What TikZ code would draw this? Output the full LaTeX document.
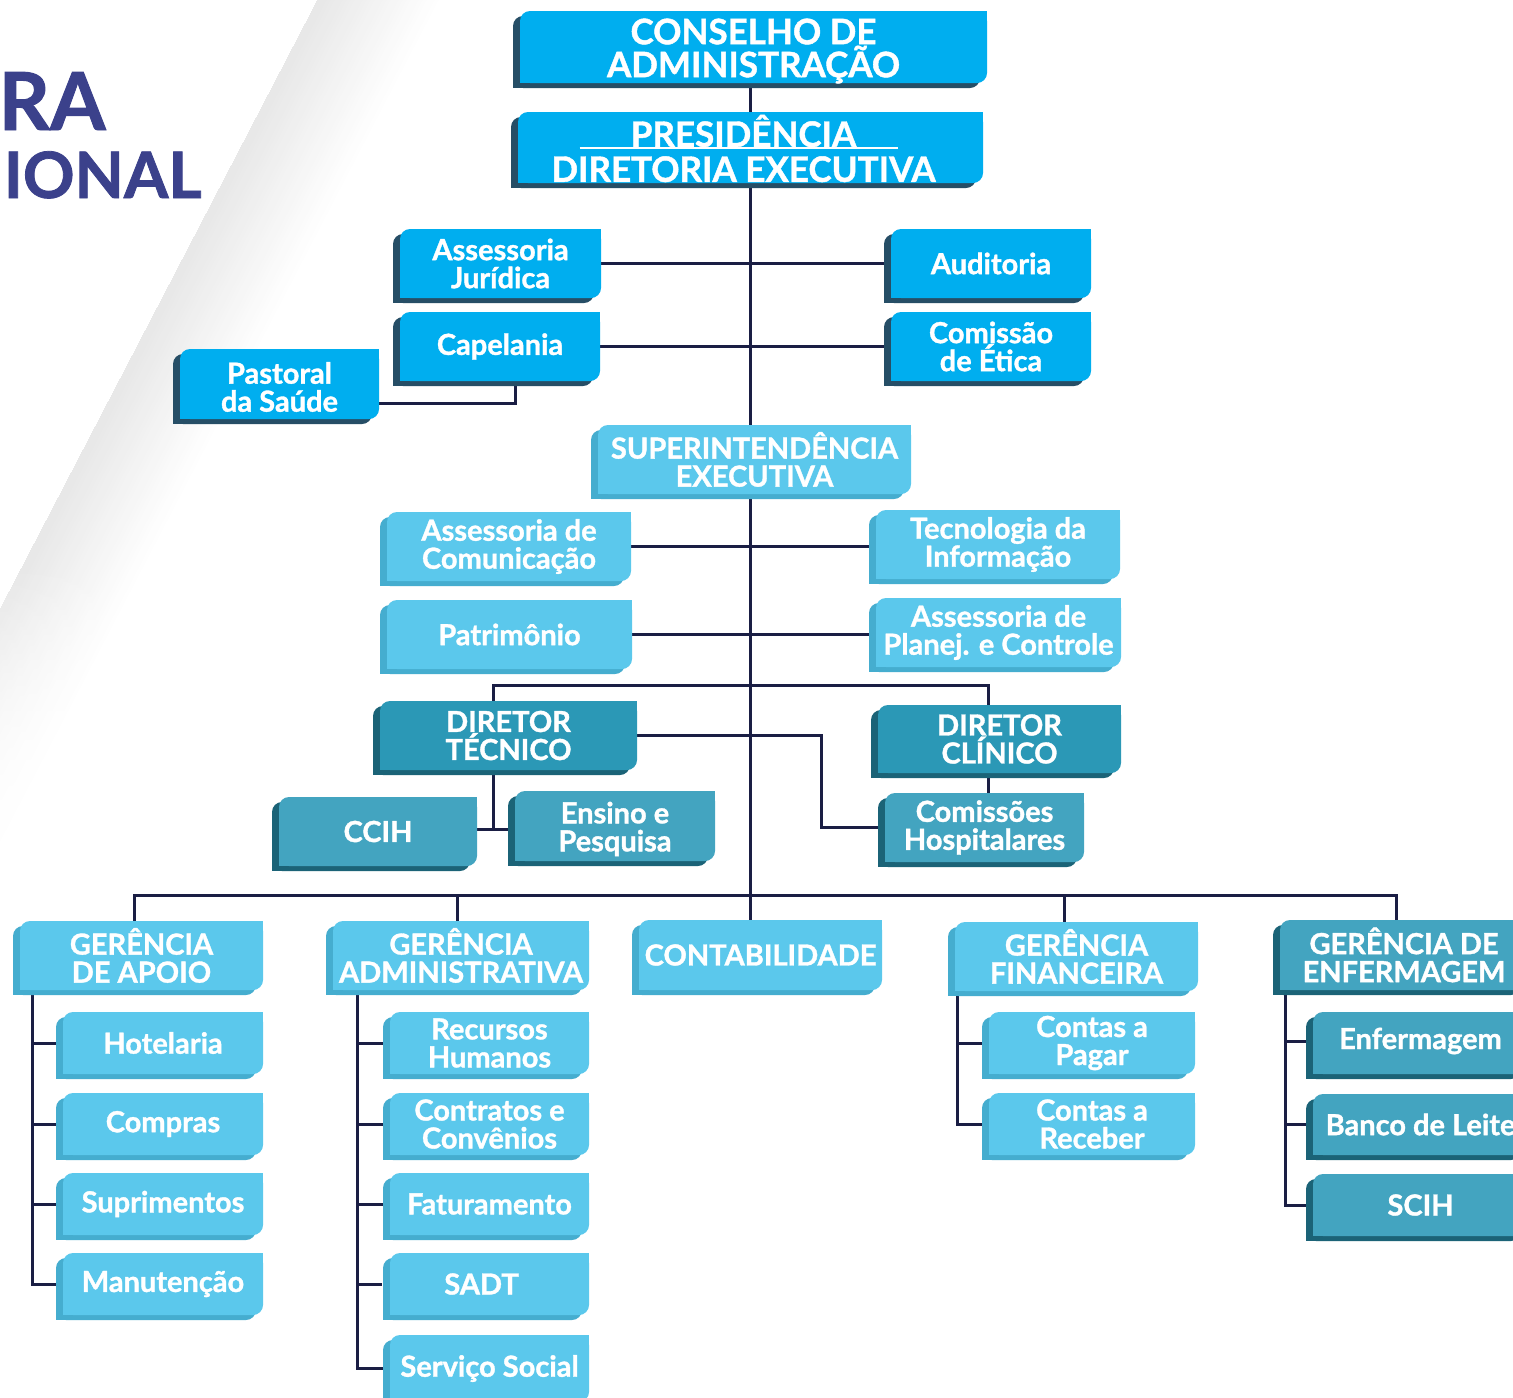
\documentclass[tikz,border=0pt]{standalone}
\usepackage{fontspec}
\setmainfont{Lato}[BoldFeatures={FakeBold=1.2}]
\usetikzlibrary{calc,fadings}
\definecolor{cyanC}{HTML}{00AEEF}
\definecolor{cyanS}{HTML}{264E66}
\definecolor{lightC}{HTML}{5BC8EC}
\definecolor{lightS}{HTML}{45ADCF}
\definecolor{dirC}{HTML}{2B98B6}
\definecolor{dirS}{HTML}{1B6377}
\definecolor{tealC}{HTML}{43A4C0}
\definecolor{tealS}{HTML}{1B6377}
\definecolor{lineC}{HTML}{1A1E44}
\definecolor{titleC}{HTML}{3B418B}
\pgfdeclarelayer{background}
\pgfsetlayers{background,main}
\tikzset{
  conn/.style={draw=lineC, line width=1.5pt},
  lbl/.style={text=white, font=\bfseries\fontsize{14.5}{14}\selectfont, align=center, inner sep=0pt},
  caplbl/.style={lbl, font=\bfseries\fontsize{14.5}{14}\selectfont},
  biglbl/.style={lbl, font=\bfseries\fontsize{17.5}{16.5}\selectfont},
}
\newcommand\obox[9][lbl]{%
  \fill[#8,rounded corners=5pt] (#3-7,#4+5) rectangle (#5-7,#6+5);
  \fill[#8] (#3-7,#6+5) rectangle (#3+5,#6-7);
  \fill[#7,rounded corners=5pt] (#3,#4) rectangle (#5,#6);
  \fill[#7] (#5-12,#4) rectangle (#5,#4+12);
  \fill[#7] (#3,#6-12) rectangle (#3+12,#6);
  \node[#1, minimum width={(#5-#3)*0.5pt}, minimum height={(#6-#4)*0.5pt}] (#2) at ({(#3+#5)/2},{(#4+#6)/2}) {#9};
}
\begin{document}
\begin{tikzpicture}[x=0.5pt,y=-0.5pt]
\useasboundingbox (0,0) rectangle (1513,1397);
\begin{pgfonlayer}{background}
\fill[white] (0,0) rectangle (1513,1397);
% background diagonal shading
\begin{scope}
\clip (0,0) rectangle (1513,1397);
\foreach \w in {120,116,...,4}{
  \pgfmathsetmacro\v{9.5*(1-\w/124)}
  \fill[black!\v] (318,0) -- (318+\w,0) -- (318+\w-728,1397) -- (318-728,1397) -- cycle;
}
\fill[white, path fading=north] (0,560) rectangle (400,860);
\fill[white] (0,860) rectangle (400,1397);
\end{scope}
\end{pgfonlayer}
% title fragments
\node[anchor=base east, inner sep=0, text=titleC, font=\bfseries\fontsize{40}{40}\selectfont] (ttl1) at (106,130) {RA};
\node[anchor=base east, inner sep=0, text=titleC, font=\bfseries\fontsize{32}{32}\selectfont] (ttl2) at (202,198) {IONAL};

\coordinate (sp) at (750,0);

% boxes
\obox[{biglbl,yshift=-2pt}]{conselho}{520}{11}{987}{83}{cyanC}{cyanS}{CONSELHO DE\\ADMINISTRAÇÃO}
\obox[{biglbl,xshift=-3.5pt,yshift=-0.5pt}]{pres}{518}{112}{983}{183}{cyanC}{cyanS}{PRESIDÊNCIA\\[1pt]DIRETORIA EXECUTIVA}
\draw[white, line width=1pt] ($(pres.north west)+(69,35)$) -- ($(pres.north west)+(387,35)$);
\obox{ajur}{400}{229}{601}{298}{cyanC}{cyanS}{Assessoria\\Jurídica}
\obox{aud}{891}{229}{1091}{298}{cyanC}{cyanS}{Auditoria}
\obox{cap}{400}{312}{600}{381}{cyanC}{cyanS}{Capelania}
\obox{etica}{891}{312}{1091}{381}{cyanC}{cyanS}{Comissão\\de Ética}
\obox[{lbl,yshift=-1.5pt}]{past}{180}{349}{379}{419}{cyanC}{cyanS}{Pastoral\\da Saúde}
\obox[caplbl]{sup}{598}{425}{911}{494}{lightC}{lightS}{SUPERINTENDÊNCIA\\EXECUTIVA}
\obox{acom}{387}{512}{631}{581}{lightC}{lightS}{Assessoria de\\Comunicação}
\obox{ti}{876}{510}{1120}{579}{lightC}{lightS}{Tecnologia da\\Informação}
\obox{pat}{387}{600}{632}{669}{lightC}{lightS}{Patrimônio}
\obox{apc}{876}{598}{1121}{667}{lightC}{lightS}{Assessoria de\\Planej. e Controle}
\obox[caplbl]{dt}{380}{701}{637}{770}{dirC}{dirS}{DIRETOR\\TÉCNICO}
\obox[caplbl]{dc}{878}{705}{1121}{773}{dirC}{dirS}{DIRETOR\\CLÍNICO}
\obox{ch}{885}{793}{1084}{862}{tealC}{tealS}{Comissões\\Hospitalares}
\obox{ccih}{279}{797}{477}{866}{tealC}{tealS}{CCIH}
\obox[{lbl,yshift=-1.5pt}]{ens}{515}{791}{715}{861}{tealC}{tealS}{Ensino e\\Pesquisa}
\obox[caplbl]{ga}{20}{921}{263}{990}{lightC}{lightS}{GERÊNCIA\\DE APOIO}
\obox[caplbl]{gadm}{333}{921}{589}{990}{lightC}{lightS}{GERÊNCIA\\ADMINISTRATIVA}
\obox[caplbl]{contab}{639}{920}{882}{990}{lightC}{lightS}{CONTABILIDADE}
\obox[caplbl]{gf}{955}{922}{1198}{991}{lightC}{lightS}{GERÊNCIA\\FINANCEIRA}
\obox[caplbl]{ge}{1280}{920}{1528}{990}{tealC}{tealS}{GERÊNCIA DE\\ENFERMAGEM}
\obox{hot}{63}{1012}{263}{1074}{lightC}{lightS}{Hotelaria}
\obox{comp}{63}{1093}{263}{1155}{lightC}{lightS}{Compras}
\obox{supr}{63}{1173}{263}{1235}{lightC}{lightS}{Suprimentos}
\obox{man}{63}{1253}{263}{1315}{lightC}{lightS}{Manutenção}
\obox{rh}{390}{1012}{589}{1074}{lightC}{lightS}{Recursos\\Humanos}
\obox{cc}{390}{1093}{589}{1155}{lightC}{lightS}{Contratos e\\Convênios}
\obox{fat}{390}{1173}{589}{1235}{lightC}{lightS}{Faturamento}
\obox[{lbl,xshift=-4pt}]{sadt}{390}{1253}{589}{1315}{lightC}{lightS}{SADT}
\obox{ss}{390}{1335}{589}{1402}{lightC}{lightS}{Serviço Social}
\obox{cp}{989}{1012}{1195}{1074}{lightC}{lightS}{Contas a\\Pagar}
\obox{cr}{989}{1093}{1195}{1155}{lightC}{lightS}{Contas a\\Receber}
\obox[{lbl,yshift=1pt}]{enf}{1313}{1012}{1528}{1074}{tealC}{tealS}{Enfermagem}
\obox{bl}{1313}{1094}{1528}{1155}{tealC}{tealS}{Banco de Leite}
\obox{scih}{1313}{1174}{1528}{1236}{tealC}{tealS}{SCIH}

% connectors
\begin{pgfonlayer}{background}
\draw[conn] (conselho.south -| sp) -- (pres.north -| sp);
\draw[conn] (pres.south -| sp) -- (contab.north -| sp);
\draw[conn] (ajur.east) -- (aud.west);
\draw[conn] (cap.east) -- (etica.west);
\draw[conn] ($(past.south east)+(0,-19)$) -| ($(cap.south west)+(116,0)$);
\draw[conn] (acom.east) -- (acom.east -| ti.west);
\draw[conn] (pat.east) -- (pat.east -| apc.west);
\draw[conn] ($(dt.north west)+(114,0)$) |- ($(dc.north west)+(111,-19)$) -- ($(dc.north west)+(111,0)$);
\draw[conn] (dt.east) -- ++(184,0) |- (ch.west);
\draw[conn] ($(dc.south west)+(111,0)$) -- ($(ch.north west)+(104,0)$);
\draw[conn] ($(dt.south west)+(114,0)$) |- (ens.west);
\draw[conn] (ccih.east |- ens.west) -- (ens.west);
\draw[conn] ($(ga.north west)+(115,0)$) |- ($(ge.north west)+(117,-24)$) -- ($(ge.north west)+(117,0)$);
\draw[conn] ($(gadm.north west)+(125,0)$) -- ++(0,-24);
\draw[conn] ($(gf.north west)+(110,0)$) -- ++(0,-25);
% children
\coordinate (gav) at ($(ga.south west)+(13,0)$);
\draw[conn] (gav) |- (man.west);
\foreach \c in {hot,comp,supr}{\draw[conn] (\c.west -| gav) -- (\c.west);}
\coordinate (gadmv) at ($(gadm.south west)+(25,0)$);
\draw[conn] (gadmv) |- (ss.west);
\foreach \c in {rh,cc,fat,sadt}{\draw[conn] (\c.west -| gadmv) -- (\c.west);}
\coordinate (gfv) at ($(gf.south west)+(3,0)$);
\draw[conn] (gfv) |- (cr.west);
\draw[conn] (cp.west -| gfv) -- (cp.west);
\coordinate (gev) at ($(ge.south west)+(6,0)$);
\draw[conn] (gev) |- (scih.west);
\foreach \c in {enf,bl}{\draw[conn] (\c.west -| gev) -- (\c.west);}
\end{pgfonlayer}
\end{tikzpicture}
\end{document}
